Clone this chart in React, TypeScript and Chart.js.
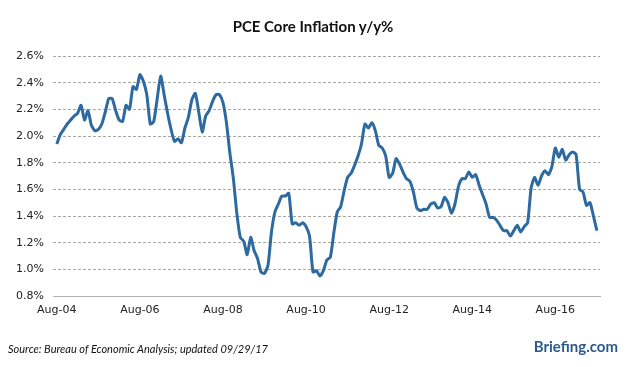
import React, { useEffect, useRef } from "react";
import { Chart, registerables } from "chart.js";

Chart.register(...registerables);

// Monthly PCE core inflation y/y %, Aug-2004 .. Aug-2017
const coreYoY: number[] = [
  1.94, 2.01, 2.05, 2.09, 2.12, 2.15, 2.17, 2.23, 2.12, 2.19,
  2.08, 2.04, 2.05, 2.09, 2.18, 2.28, 2.28, 2.19, 2.12, 2.11,
  2.23, 2.20, 2.37, 2.35, 2.46, 2.41, 2.31, 2.09, 2.11, 2.28,
  2.45, 2.31, 2.17, 2.05, 1.96, 1.98, 1.95, 2.06, 2.14, 2.27,
  2.32, 2.18, 2.03, 2.15, 2.19, 2.26, 2.31, 2.31, 2.25, 2.10,
  1.87, 1.68, 1.42, 1.24, 1.21, 1.11, 1.24, 1.14, 1.08, 0.98,
  0.97, 1.03, 1.28, 1.43, 1.49, 1.55, 1.55, 1.57, 1.34, 1.35,
  1.33, 1.35, 1.32, 1.25, 0.98, 0.99, 0.95, 0.99, 1.07, 1.09,
  1.27, 1.43, 1.47, 1.59, 1.69, 1.72, 1.78, 1.85, 1.94, 2.09,
  2.06, 2.10, 2.04, 1.93, 1.91, 1.85, 1.69, 1.72, 1.83, 1.79,
  1.73, 1.68, 1.66, 1.58, 1.46, 1.44, 1.45, 1.45, 1.49, 1.50,
  1.46, 1.47, 1.54, 1.50, 1.42, 1.49, 1.62, 1.68, 1.68, 1.73,
  1.69, 1.71, 1.63, 1.56, 1.49, 1.39, 1.39, 1.37, 1.33, 1.29,
  1.29, 1.25, 1.29, 1.33, 1.28, 1.32, 1.35, 1.61, 1.69, 1.63,
  1.70, 1.74, 1.71, 1.77, 1.91, 1.84, 1.90, 1.82, 1.86, 1.88,
  1.86, 1.60, 1.58, 1.48, 1.50, 1.40, 1.29,
];

const xTickIndex: number[] = [0, 24, 48, 72, 96, 120, 144];
const xTickLabels: string[] = ["Aug-04", "Aug-06", "Aug-08", "Aug-10", "Aug-12", "Aug-14", "Aug-16"];

const yMin = 0.8;
const yMax = 2.6;
const yStep = 0.2;

const titleText = "PCE Core Inflation y/y%";
const sourceText = "Source: Bureau of Economic Analysis; updated 09/29/17";
const brandText = "Briefing.com";

export default function App() {
  const ref = useRef<HTMLCanvasElement | null>(null);

  useEffect(() => {
    if (!ref.current) return;
    const tickFont = { family: "'DejaVu Sans', sans-serif", size: 11 };
    const chart = new Chart(ref.current, {
      type: "line",
      data: {
        datasets: [
          {
            data: coreYoY.map((v, i) => ({ x: i, y: v })),
            borderColor: "#2d6aa0",
            borderWidth: 3,
            pointRadius: 0,
            tension: 0.2,
            fill: false,
          },
        ],
      },
      options: {
        animation: false,
        responsive: false,
        layout: { padding: { top: 56, right: 26, left: 0, bottom: 0 } },
        plugins: { legend: { display: false }, tooltip: { enabled: false }, title: { display: false } },
        scales: {
          x: {
            type: "linear",
            min: -1.1,
            max: 156.9,
            afterFit: (s: any) => { s.height = 71; },
            afterBuildTicks: (s: any) => { s.ticks = xTickIndex.map((v) => ({ value: v })); },
            grid: { display: false, drawTicks: false },
            border: { display: true, color: "#b4b4b4", width: 1 },
            ticks: {
              autoSkip: false,
              maxRotation: 0,
              padding: 8,
              color: "#222",
              font: tickFont,
              callback: (_v: any, i: number) => xTickLabels[i],
            },
          },
          y: {
            min: yMin,
            max: yMax,
            afterFit: (s: any) => { s.width = 53; },
            grid: { color: "#a8a8a0", lineWidth: 1, drawTicks: false },
            border: { display: false, dash: [3, 2] },
            ticks: {
              stepSize: yStep,
              padding: 9,
              color: "#222",
              font: tickFont,
              callback: (v: any) => Number(v).toFixed(1) + "%",
            },
          },
        },
      },
    });
    return () => chart.destroy();
  }, []);

  return (
    <div style={{ position: "absolute", left: 0, top: 0, width: 626, height: 367, background: "#fff", overflow: "hidden" }}>
      <canvas ref={ref} width={626} height={367} style={{ position: "absolute", left: 0, top: 0 }} />
      <div
        style={{
          position: "absolute", left: 0, width: 626, top: 16, textAlign: "center",
          fontFamily: "Lato, sans-serif", fontWeight: 700, fontSize: 15, color: "#111", lineHeight: "20px",
        }}
      >
        {titleText}
      </div>
      <div
        style={{
          position: "absolute", left: 8, top: 341, fontFamily: "Lato, sans-serif", fontStyle: "italic",
          fontSize: 11, color: "#111", lineHeight: "15px", whiteSpace: "nowrap",
        }}
      >
        {sourceText}
      </div>
      <div
        style={{
          position: "absolute", right: 8, top: 336, fontFamily: "Lato, sans-serif", fontWeight: 700,
          fontSize: 15, color: "#2a5b8c", lineHeight: "20px", whiteSpace: "nowrap",
        }}
      >
        {brandText}
      </div>
    </div>
  );
}
